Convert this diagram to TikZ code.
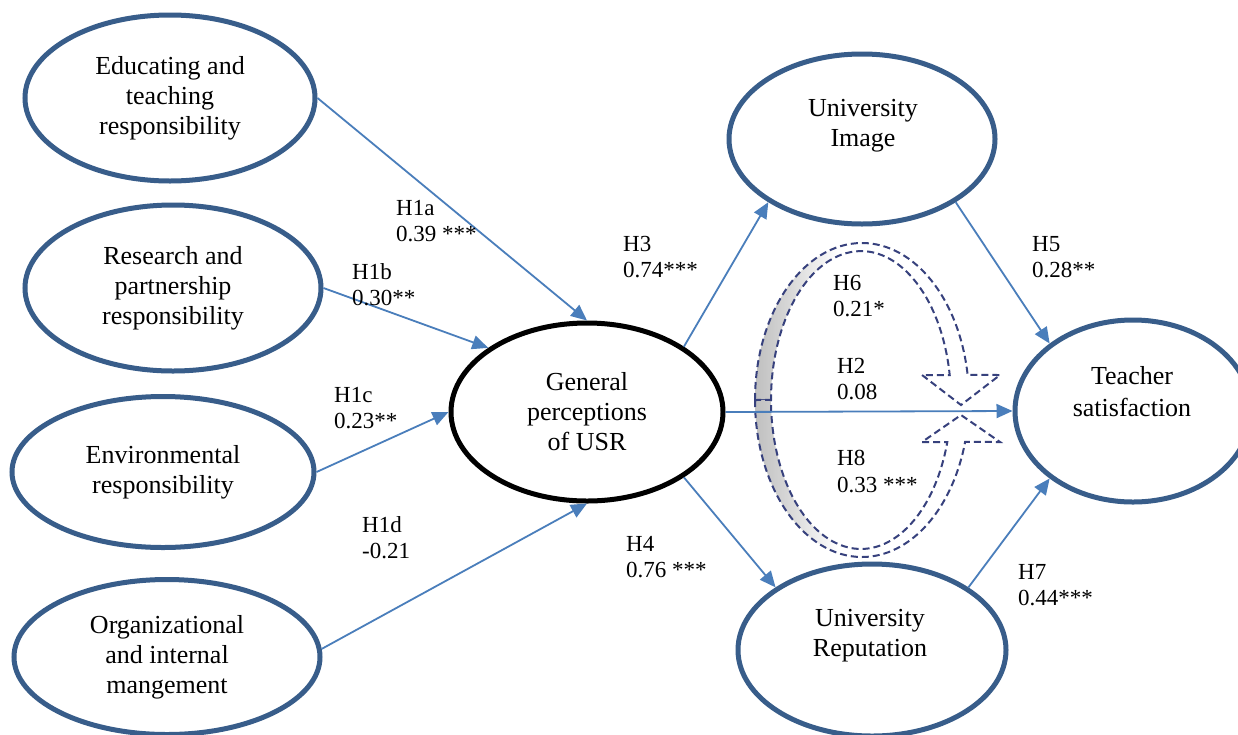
\documentclass[tikz,border=0pt]{standalone}
\usepackage{fontspec}
\setmainfont{Liberation Serif}
\usetikzlibrary{arrows.meta,shapes.geometric}
\definecolor{ovalblue}{RGB}{56,93,138}
\definecolor{arrowblue}{RGB}{74,126,187}
\definecolor{dashblue}{RGB}{55,65,125}
\pgfdeclarehorizontalshading{bandshade}{100bp}{color(0bp)=(black!25); color(25bp)=(black!25); color(33bp)=(black!14); color(42bp)=(white); color(100bp)=(white)}
\begin{document}
\begin{tikzpicture}[x=1pt,y=-1pt,
  oval/.style={ellipse, draw=ovalblue, line width=5pt, inner sep=0pt, align=center, font=\fontsize{26}{30}\selectfont},
  etext/.style={align=center, inner sep=0pt, font=\fontsize{26}{30}\selectfont},
  lab/.style={anchor=north west, align=left, inner sep=0pt, font=\fontsize{23}{26.5}\selectfont},
  link/.style={draw=arrowblue, line width=1.8pt, -{Triangle[length=16pt,width=14pt]}},
  band/.style={draw=dashblue, line width=2pt, dash pattern=on 7pt off 4pt, shading=bandshade}]
\useasboundingbox (0,0) rectangle (1238,734);
\fill[white] (0,0) rectangle (1238,734);

% ellipses
\node[oval, minimum width=290pt, minimum height=166pt] (edu) at (170,98) {Educating and\\teaching\\responsibility};
\node[oval, minimum width=296pt, minimum height=166pt] (res) at (173,288) {Research and\\partnership\\responsibility};
\node[oval, minimum width=302pt, minimum height=151pt] (env) at (163,472) {Environmental\\responsibility};
\node[oval, minimum width=306pt, minimum height=155pt] (org) at (167,657) {Organizational\\and internal\\mangement};
\node[oval, draw=black, minimum width=272pt, minimum height=178pt] (gen) at (587,412) {General\\perceptions\\of USR};
\node[oval, minimum width=266pt, minimum height=170pt] (img) at (862,139) {};
\node[etext] (imgt) at (863,126) {University\\Image};
\node[oval, minimum width=268pt, minimum height=172pt] (rep) at (872,650) {};
\node[etext] (rept) at (870,636) {University\\Reputation};
\node[oval, minimum width=236pt, minimum height=182pt] (ts) at (1133,411) {};
\node[etext] (tst) at (1132,392) {Teacher\\[2pt]satisfaction};

% curved dashed double arrow (H6 / H8)
\path[band] (755,400) arc[start angle=180, end angle=9.2, x radius=107pt, y radius=157pt]
  -- (1000,375) -- (961,405) -- (922,375) -- (949.7,375)
  arc[start angle=9.7, end angle=180, x radius=90pt, y radius=149pt] -- cycle;
\path[band] (755,400) arc[start angle=180, end angle=344.5, x radius=107pt, y radius=157pt]
  -- (1000,442) -- (961,415) -- (922,442) -- (947.3,442)
  arc[start angle=343.6, end angle=180, x radius=90pt, y radius=149pt] -- cycle;

% connectors
\draw[link] (edu.east) -- (gen.north);
\draw[link] (res.east) -- (gen.147);
\draw[link] (env.east) -- (gen.west);
\draw[link] (org.3) -- (gen.south);
\draw[link] (gen.34) -- (img.214);
\draw[link] (gen.-34) -- (rep.147);
\draw[link] (gen.east) -- (ts.west);
\draw[link] (img.-34) -- (ts.141);
\draw[link] (rep.33) -- (ts.-141);

% labels
\node[lab] (l1a) at (396,200) {H1a\\0.39 ***};
\node[lab] (l1b) at (352,263) {H1b\\0.30**};
\node[lab] (l3) at (623,236) {H3\\0.74***};
\node[lab] (l1c) at (334,387) {H1c\\0.23**};
\node[lab] (l1d) at (362,516) {H1d\\-0.21};
\node[lab] (l4) at (626,536) {H4\\0.76 ***};
\node[lab] (l6) at (833,275) {H6\\0.21*};
\node[lab] (l2) at (837,358) {H2\\0.08};
\node[lab] (l8) at (837,450) {H8\\0.33 ***};
\node[lab] (l5) at (1032,236) {H5\\0.28**};
\node[lab] (l7) at (1018,564) {H7\\0.44***};
\end{tikzpicture}
\end{document}
